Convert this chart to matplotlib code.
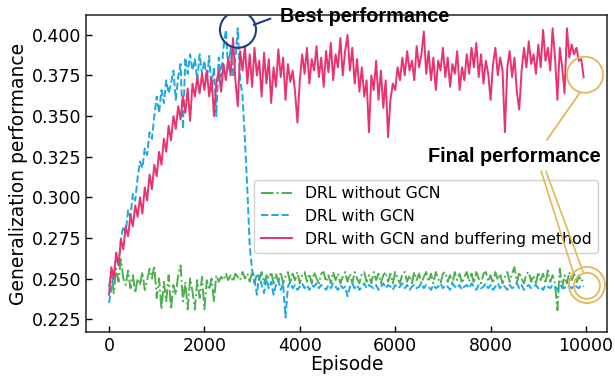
import numpy as np
import matplotlib
matplotlib.use("Agg")
import matplotlib.pyplot as plt
from matplotlib.patches import Ellipse

episodes = list(range(0, 10000, 50))

red_vals = [
    0.240, 0.257, 0.250, 0.266, 0.258, 0.274, 0.268, 0.282, 0.276, 0.289,
    0.282, 0.295, 0.288, 0.300, 0.290, 0.306, 0.298, 0.314, 0.305, 0.320,
    0.313, 0.328, 0.320, 0.336, 0.328, 0.344, 0.335, 0.350, 0.342, 0.356,
    0.348, 0.362, 0.352, 0.367, 0.347, 0.370, 0.362, 0.374, 0.364, 0.376,
    0.366, 0.378, 0.362, 0.374, 0.350, 0.370, 0.378, 0.365, 0.382, 0.372,
    0.386, 0.375, 0.398, 0.372, 0.356, 0.390, 0.378, 0.393, 0.370, 0.388,
    0.368, 0.392, 0.375, 0.384, 0.362, 0.389, 0.370, 0.385, 0.358, 0.380,
    0.368, 0.391, 0.374, 0.386, 0.360, 0.382, 0.371, 0.378, 0.365, 0.346,
    0.372, 0.388, 0.376, 0.392, 0.370, 0.385, 0.378, 0.393, 0.374, 0.386,
    0.368, 0.390, 0.377, 0.395, 0.372, 0.388, 0.380, 0.398, 0.375, 0.390,
    0.400, 0.378, 0.392, 0.370, 0.385, 0.365, 0.380, 0.362, 0.372, 0.340,
    0.375, 0.366, 0.384, 0.360, 0.378, 0.355, 0.372, 0.337, 0.360, 0.370,
    0.366, 0.380, 0.372, 0.386, 0.375, 0.390, 0.378, 0.384, 0.372, 0.393,
    0.380, 0.388, 0.402, 0.376, 0.390, 0.372, 0.386, 0.366, 0.384, 0.378,
    0.392, 0.374, 0.386, 0.368, 0.382, 0.376, 0.390, 0.366, 0.380, 0.372,
    0.388, 0.376, 0.392, 0.380, 0.395, 0.374, 0.388, 0.370, 0.384, 0.376,
    0.360, 0.382, 0.392, 0.375, 0.386, 0.378, 0.340, 0.380, 0.390, 0.374,
    0.386, 0.365, 0.354, 0.378, 0.392, 0.380, 0.396, 0.382, 0.388, 0.376,
    0.394, 0.380, 0.403, 0.384, 0.392, 0.378, 0.404, 0.386, 0.360, 0.392,
    0.380, 0.364, 0.404, 0.386, 0.394, 0.388, 0.392, 0.384, 0.385, 0.374,
]

blue_vals = [
    0.235, 0.244, 0.252, 0.262, 0.258, 0.274, 0.282, 0.278, 0.292, 0.288,
    0.302, 0.298, 0.312, 0.322, 0.318, 0.330, 0.326, 0.340, 0.336, 0.350,
    0.362, 0.352, 0.366, 0.358, 0.372, 0.364, 0.370, 0.378, 0.360, 0.374,
    0.382, 0.342, 0.386, 0.376, 0.388, 0.378, 0.385, 0.372, 0.388, 0.376,
    0.384, 0.372, 0.387, 0.365, 0.380, 0.350, 0.386, 0.374, 0.392, 0.403,
    0.378, 0.392, 0.374, 0.386, 0.404, 0.372, 0.362, 0.335, 0.305, 0.270,
    0.255, 0.250, 0.240, 0.252, 0.246, 0.241, 0.250, 0.244, 0.248, 0.240,
    0.246, 0.249, 0.243, 0.247, 0.226, 0.245, 0.248, 0.244, 0.246, 0.243,
    0.245, 0.247, 0.244, 0.246, 0.243, 0.246, 0.245, 0.247, 0.244, 0.246,
    0.245, 0.243, 0.246, 0.244, 0.247, 0.245, 0.243, 0.246, 0.244, 0.245,
    0.239, 0.245, 0.247, 0.244, 0.246, 0.243, 0.245, 0.247, 0.244, 0.246,
    0.245, 0.244, 0.246, 0.243, 0.245, 0.247, 0.244, 0.246, 0.245, 0.243,
    0.246, 0.244, 0.245, 0.247, 0.244, 0.246, 0.243, 0.245, 0.246, 0.244,
    0.245, 0.247, 0.244, 0.246, 0.245, 0.243, 0.246, 0.244, 0.245, 0.247,
    0.244, 0.246, 0.245, 0.243, 0.247, 0.245, 0.244, 0.246, 0.243, 0.245,
    0.246, 0.244, 0.247, 0.245, 0.243, 0.246, 0.244, 0.245, 0.247, 0.244,
    0.246, 0.243, 0.245, 0.247, 0.244, 0.246, 0.245, 0.243, 0.246, 0.244,
    0.245, 0.247, 0.244, 0.246, 0.243, 0.245, 0.246, 0.244, 0.245, 0.246,
    0.244, 0.245, 0.243, 0.246, 0.245, 0.244, 0.246, 0.245, 0.243, 0.246,
    0.245, 0.244, 0.246, 0.245, 0.244, 0.246, 0.245, 0.244, 0.246, 0.245,
]

green_vals = [
    0.245, 0.253, 0.241, 0.256, 0.248, 0.262, 0.250, 0.246, 0.255, 0.244,
    0.252, 0.241, 0.250, 0.246, 0.254, 0.243, 0.249, 0.256, 0.250, 0.258,
    0.238, 0.250, 0.231, 0.248, 0.236, 0.252, 0.231, 0.246, 0.240, 0.252,
    0.258, 0.236, 0.248, 0.231, 0.250, 0.242, 0.231, 0.249, 0.238, 0.251,
    0.231, 0.249, 0.243, 0.250, 0.236, 0.252, 0.248, 0.251, 0.249, 0.253,
    0.249, 0.252, 0.248, 0.253, 0.251, 0.249, 0.254, 0.250, 0.253, 0.248,
    0.254, 0.247, 0.253, 0.249, 0.254, 0.247, 0.252, 0.250, 0.254, 0.247,
    0.253, 0.248, 0.254, 0.247, 0.251, 0.254, 0.247, 0.253, 0.249, 0.254,
    0.247, 0.252, 0.254, 0.248, 0.253, 0.247, 0.254, 0.250, 0.247, 0.253,
    0.254, 0.248, 0.252, 0.247, 0.254, 0.249, 0.253, 0.247, 0.251, 0.254,
    0.248, 0.253, 0.247, 0.254, 0.250, 0.247, 0.253, 0.254, 0.248, 0.252,
    0.247, 0.254, 0.249, 0.253, 0.247, 0.252, 0.254, 0.248, 0.253, 0.247,
    0.254, 0.250, 0.247, 0.253, 0.254, 0.248, 0.252, 0.247, 0.254, 0.249,
    0.253, 0.247, 0.251, 0.254, 0.248, 0.253, 0.247, 0.254, 0.250, 0.247,
    0.253, 0.254, 0.248, 0.252, 0.247, 0.254, 0.249, 0.253, 0.247, 0.251,
    0.254, 0.248, 0.253, 0.247, 0.254, 0.250, 0.247, 0.253, 0.254, 0.248,
    0.252, 0.247, 0.254, 0.249, 0.253, 0.247, 0.251, 0.254, 0.248, 0.253,
    0.257, 0.247, 0.254, 0.250, 0.247, 0.253, 0.254, 0.248, 0.252, 0.247,
    0.254, 0.249, 0.253, 0.247, 0.255, 0.248, 0.252, 0.247, 0.2305, 0.256,
    0.244, 0.252, 0.247, 0.254, 0.249, 0.253, 0.247, 0.252, 0.248, 0.250,
]

labels = ["DRL without GCN", "DRL with GCN", "DRL with GCN and buffering method"]
colors = ["#4caf50", "#1ea7e1", "#e8336f"]
x_ticks = [0, 2000, 4000, 6000, 8000, 10000]
y_ticks = [0.225, 0.250, 0.275, 0.300, 0.325, 0.350, 0.375, 0.400]

plt.rcParams['font.family'] = ['DejaVu Sans']
fig = plt.figure(figsize=(6.15, 3.8), dpi=100)
ax = fig.add_axes([0.140, 0.126, 0.847, 0.835])

ax.plot(episodes, green_vals, linestyle='-.', color=colors[0], lw=1.4, label=labels[0])
ax.plot(episodes, blue_vals, linestyle='--', color=colors[1], lw=1.4, label=labels[1])
ax.plot(episodes, red_vals, linestyle='-', color=colors[2], lw=1.4, label=labels[2])

ax.set_xlim(-480, 10440)
ax.set_ylim(0.217, 0.4123)
ax.set_xticks(x_ticks)
ax.set_yticks(y_ticks)
ax.set_xticklabels([str(t) for t in x_ticks])
ax.set_yticklabels([f"{t:.3f}" for t in y_ticks])
ax.tick_params(direction='in', labelsize=12.5, length=4, width=1)
ax.set_xlabel("Episode", fontsize=13.5, labelpad=0)
ax.set_ylabel("Generalization performance", fontsize=13.5, labelpad=3)
for s in ax.spines.values():
    s.set_linewidth(1.1)
    s.set_color("#222222")

leg = ax.legend(loc='upper right', bbox_to_anchor=(0.997, 0.505), fontsize=11.3,
                frameon=True, fancybox=True, edgecolor="#cccccc", framealpha=0.9,
                borderpad=0.4, labelspacing=0.5)
leg.set_zorder(4)

# annotations (data coordinates)
navy = "#1c3a8c"
gold = "#e3b658"
ax.add_patch(Ellipse((2704, 0.4031), 755, 0.0222, fill=False, edgecolor=navy, lw=1.5, zorder=6))
ax.plot([3040, 3380], [0.4062, 0.4099], color=navy, lw=1.5, zorder=6)
ax.text(3580, 0.4110, "Best performance", fontsize=14.3, fontweight='bold',
        family=['Liberation Sans'], va='center', ha='left', zorder=7)

ax.add_patch(Ellipse((9979, 0.3754), 755, 0.0222, fill=False, edgecolor=gold, lw=1.3, zorder=6))
ax.plot([9870, 9180], [0.3643, 0.3353], color=gold, lw=1.3, zorder=6)
ax.text(6680, 0.3249, "Final performance", fontsize=14.3, fontweight='bold',
        family=['Liberation Sans'], va='center', ha='left', zorder=7)

ax.add_patch(Ellipse((10020, 0.2460), 755, 0.0222, fill=False, edgecolor=gold, lw=1.3, zorder=6))
ax.add_patch(Ellipse((10020, 0.2455), 545, 0.0160, fill=False, edgecolor=gold, lw=1.3, zorder=6))
ax.plot([9060, 9730], [0.3160, 0.2540], color=gold, lw=1.2, zorder=6)
ax.plot([9160, 9940], [0.3160, 0.2540], color=gold, lw=1.2, zorder=6)

fig.savefig("out.png", dpi=100)
